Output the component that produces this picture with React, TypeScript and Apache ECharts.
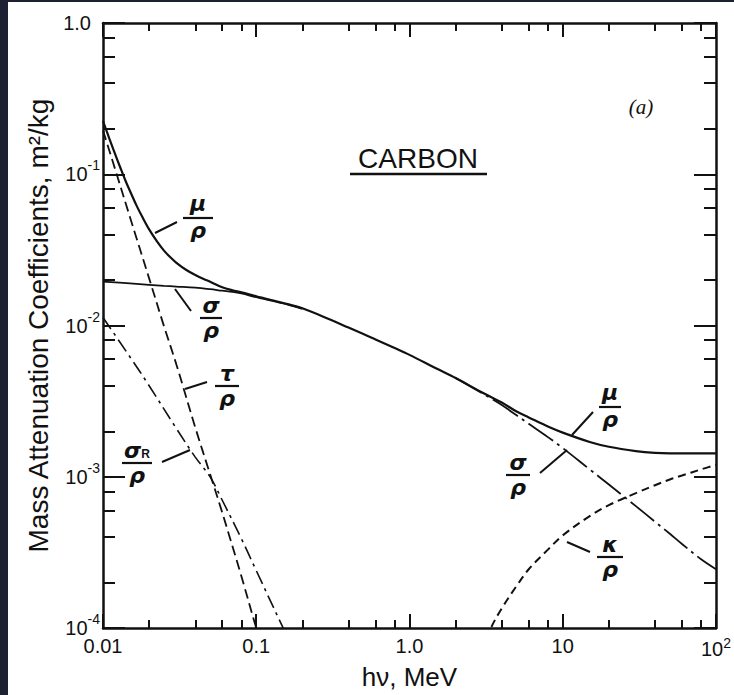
import React, { useEffect, useRef } from "react";
import * as echarts from "echarts";

// ---- data (m^2/kg vs photon energy in MeV) ----
const muEnergy = [0.01, 0.011, 0.012, 0.013, 0.014, 0.015, 0.0165, 0.018, 0.02, 0.0225, 0.025, 0.0275, 0.03, 0.035, 0.04, 0.045, 0.05, 0.06, 0.07, 0.08, 0.1, 0.15, 0.2, 0.3, 0.4, 0.5, 0.6, 0.8, 1, 1.5, 2, 3, 4, 5, 6, 8, 10, 15, 20, 30, 40, 50, 60, 80, 100];
const muValues = [0.225, 0.172, 0.136, 0.11, 0.091, 0.0775, 0.0625, 0.0525, 0.0432, 0.036, 0.0313, 0.0283, 0.0261, 0.0233, 0.0216, 0.0204, 0.0195, 0.0179, 0.0171, 0.0166, 0.0156, 0.0141, 0.013, 0.011, 0.0097, 0.0088, 0.0081, 0.0071, 0.0064, 0.0052, 0.0045, 0.0036, 0.0031, 0.0027, 0.00247, 0.00215, 0.00196, 0.0017, 0.00158, 0.00148, 0.00144, 0.00143, 0.00143, 0.00143, 0.00143];

const sigmaEnergy = [0.01, 0.015, 0.02, 0.025, 0.03, 0.04, 0.05, 0.06, 0.07, 0.08, 0.1, 0.15, 0.2, 2, 3, 4, 5, 6, 8, 10, 15, 20, 30, 40, 50, 60, 80, 100];
const sigmaValues = [0.0195, 0.019, 0.0186, 0.0183, 0.0181, 0.0178, 0.0174, 0.017, 0.0167, 0.0163, 0.0154, 0.014, 0.0129, 0.0045, 0.00355, 0.00298, 0.00255, 0.00224, 0.00183, 0.00155, 0.00112, 0.00089, 0.00064, 0.000505, 0.00042, 0.00036, 0.000285, 0.000245];

const tauEnergy = [0.01, 0.012, 0.015, 0.02, 0.025, 0.03, 0.04, 0.05, 0.06, 0.08, 0.1, 0.12];
const tauValues = [0.195, 0.108, 0.052, 0.0205, 0.0099, 0.0056, 0.00212, 0.00104, 0.00058, 0.00022, 0.0001, 0.000055];

const rayEnergy = [0.01, 0.015, 0.02, 0.03, 0.04, 0.05, 0.06, 0.08, 0.1, 0.15, 0.2];
const rayValues = [0.0113, 0.0062, 0.004, 0.0021, 0.00135, 0.001, 0.0007, 0.00039, 0.00024, 0.0001, 0.000055];

const pairEnergy = [3, 3.4, 4, 5, 6, 8, 10, 15, 20, 30, 40, 50, 60, 80, 100];
const pairValues = [0.00007, 0.0001, 0.000135, 0.00019, 0.000245, 0.00033, 0.00041, 0.00055, 0.00065, 0.00078, 0.00088, 0.00096, 0.00102, 0.00112, 0.0012];

// ---- ticks and tick labels ----
const xMajorTicks = [0.01, 0.1, 1, 10, 100];
const xLabelBase = ["0.01", "0.1", "1.0", "10", "10"];
const xLabelSup = ["", "", "", "", "2"];
const xMinorTicks = [0.02, 0.04, 0.06, 0.08, 0.2, 0.4, 0.6, 0.8, 2, 4, 6, 8, 20, 40, 60, 80];

const yMajorTicks = [0.0001, 0.001, 0.01, 0.1, 1];
const yLabelBase = ["10", "10", "10", "10", "1.0"];
const yLabelSup = ["-4", "-3", "-2", "-1", ""];
const yMinorTicks = [0.0002, 0.0004, 0.0006, 0.0008, 0.002, 0.004, 0.006, 0.008, 0.02, 0.04, 0.06, 0.08, 0.2, 0.4, 0.6, 0.8];

const INK = "#111111";
const SANS = '"Liberation Sans", Arial, sans-serif';
const GREEK = '"DejaVu Sans", sans-serif';

const zip = (xs: number[], ys: number[]) => xs.map((x, i) => [x, ys[i]]);

const findIdx = (ticks: number[], v: number) =>
  ticks.findIndex((t) => Math.abs(Math.log10(t) - Math.log10(v)) < 1e-6);

function glyph(text: string, x: number, y: number, va: string, rich?: any) {
  return {
    type: "text",
    x,
    y,
    z: 10,
    style: {
      text,
      fill: INK,
      fontFamily: GREEK,
      fontStyle: "italic",
      fontWeight: 600,
      fontSize: 22,
      lineHeight: 20,
      align: "center",
      verticalAlign: va,
      rich,
    },
  };
}

function fraction(cx: number, barY: number, halfW: number, num: string, numDy = -2, rich?: any) {
  return [
    glyph(num, cx, barY - 1 + numDy, "bottom", rich),
    {
      type: "line",
      z: 10,
      shape: { x1: cx - halfW, y1: barY, x2: cx + halfW, y2: barY },
      style: { stroke: INK, lineWidth: 2.2 },
    },
    glyph("ρ", cx, barY + 2, "top"),
  ];
}

function leader(x1: number, y1: number, x2: number, y2: number) {
  return { type: "line", z: 10, shape: { x1, y1, x2, y2 }, style: { stroke: INK, lineWidth: 2 } };
}

export default function App() {
  const ref = useRef<HTMLDivElement>(null);

  useEffect(() => {
    document.body.style.margin = "0";
    const chart = echarts.init(ref.current!, null, { renderer: "svg" });

    const tickStyle = { color: INK, width: 2 };
    const majorX = (position: string, showLabel: boolean) => ({
      type: "log",
      logBase: 10,
      min: 0.01,
      max: 100,
      interval: 1,
      position,
      gridIndex: 0,
      axisLine: { show: true, onZero: false, lineStyle: { color: INK, width: 2.5 } },
      axisTick: { show: true, inside: true, length: 14, lineStyle: tickStyle },
      minorTick: { show: false },
      splitLine: { show: false },
      axisLabel: showLabel
        ? {
            show: true,
            margin: 8,
            color: INK,
            fontFamily: SANS,
            fontSize: 20,
            formatter: (v: number) => {
              const i = findIdx(xMajorTicks, v);
              if (i < 0) return "";
              return xLabelSup[i] ? `{n|${xLabelBase[i]}}{s|${xLabelSup[i]}}` : `{n|${xLabelBase[i]}}`;
            },
            rich: {
              n: { fontSize: 20, fontFamily: SANS, color: INK },
              s: { fontSize: 14, fontFamily: SANS, color: INK, padding: [0, 0, 12, 0], verticalAlign: "top" },
            },
          }
        : { show: false },
    });
    const minorX = (position: string) => ({
      type: "log",
      logBase: 10,
      min: 0.01,
      max: 100,
      position,
      gridIndex: 0,
      axisLine: { show: false, onZero: false },
      axisTick: { show: true, inside: true, length: 8, customValues: xMinorTicks, lineStyle: tickStyle },
      splitLine: { show: false },
      axisLabel: { show: false },
    });
    const majorY = (position: string, showLabel: boolean) => ({
      type: "log",
      logBase: 10,
      min: 0.0001,
      max: 1,
      interval: 1,
      position,
      gridIndex: 0,
      axisLine: { show: true, onZero: false, lineStyle: { color: INK, width: 2.5 } },
      axisTick: { show: true, inside: true, length: 22, lineStyle: tickStyle },
      minorTick: { show: false },
      splitLine: { show: false },
      axisLabel: showLabel
        ? {
            show: true,
            margin: 3,
            color: INK,
            fontFamily: SANS,
            fontSize: 20,
            formatter: (v: number) => {
              const i = findIdx(yMajorTicks, v);
              if (i < 0) return "";
              return yLabelSup[i] ? `{n|${yLabelBase[i]}}{s|${yLabelSup[i]}}` : `{p|${yLabelBase[i]}}`;
            },
            rich: {
              n: { fontSize: 20, fontFamily: SANS, color: INK },
              p: { fontSize: 20, fontFamily: SANS, color: INK, padding: [0, 9, 0, 0] },
              s: { fontSize: 14, fontFamily: SANS, color: INK, padding: [0, 0, 18, 0], verticalAlign: "top" },
            },
          }
        : { show: false },
    });
    const minorY = (position: string) => ({
      type: "log",
      logBase: 10,
      min: 0.0001,
      max: 1,
      position,
      gridIndex: 0,
      axisLine: { show: false, onZero: false },
      axisTick: { show: true, inside: true, length: 12, customValues: yMinorTicks, lineStyle: tickStyle },
      splitLine: { show: false },
      axisLabel: { show: false },
    });

    const xMain: any = majorX("bottom", true);
    xMain.name = "hν, MeV";
    xMain.nameLocation = "middle";
    xMain.nameGap = 35;
    xMain.nameTextStyle = { fontFamily: SANS, fontSize: 26, color: INK };

    const yMain: any = majorY("left", true);
    yMain.name = "Mass Attenuation Coefficients, m²/kg";
    yMain.nameLocation = "middle";
    yMain.nameGap = 50;
    yMain.nameTextStyle = { fontFamily: SANS, fontSize: 28, color: INK };

    const lineSeries = (name: string, data: number[][], type: any, width: number) => ({
      name,
      type: "line",
      xAxisIndex: 0,
      yAxisIndex: 0,
      data,
      symbol: "none",
      smooth: 0.35,
      clip: true,
      silent: true,
      lineStyle: { color: INK, width, type, cap: "butt" },
      z: 3,
    });

    const sigmaAll = zip(sigmaEnergy, sigmaValues);
    const sigmaLow = sigmaAll.filter((p) => p[0] <= 0.2);
    const sigmaHigh = sigmaAll.filter((p) => p[0] >= 2);

    const graphics: any[] = [
      { type: "rect", z: 0, shape: { x: 0, y: 0, width: 8, height: 695 }, style: { fill: "#1c2231" } },
      { type: "rect", z: 0, shape: { x: 0, y: 0, width: 734, height: 2 }, style: { fill: "#1c2231" } },
      {
        type: "text",
        x: 418,
        y: 158,
        z: 10,
        style: { text: "CARBON", fill: INK, fontFamily: SANS, fontSize: 28, align: "center", verticalAlign: "middle" },
      },
      { type: "line", z: 10, shape: { x1: 350, y1: 174, x2: 487, y2: 174 }, style: { stroke: INK, lineWidth: 2.5 } },
      {
        type: "text",
        x: 641,
        y: 107,
        z: 10,
        style: {
          text: "(a)",
          fill: INK,
          fontFamily: '"Liberation Serif", serif',
          fontStyle: "italic",
          fontSize: 21,
          align: "center",
          verticalAlign: "middle",
        },
      },
      // mu/rho (upper)
      ...fraction(198, 218, 15, "μ", -4),
      leader(155, 233, 177, 222),
      // sigma/rho (upper)
      ...fraction(211, 318, 11, "σ"),
      leader(175, 289, 191, 311),
      // tau/rho
      ...fraction(227, 386, 12, "τ"),
      leader(185, 389, 207, 382),
      // sigma_R/rho
      ...fraction(137, 463, 15, "{g|σ}{r|R}", -2, {
        g: { fontFamily: GREEK, fontStyle: "italic", fontWeight: 600, fontSize: 22, lineHeight: 20, color: INK },
        r: { fontFamily: SANS, fontWeight: "bold", fontSize: 12, color: INK, padding: [8, 0, 0, 0] },
      }),
      leader(162, 462, 190, 450),
      // mu/rho (lower right)
      ...fraction(610, 407, 11, "μ", -4),
      leader(572, 435, 593, 412),
      // sigma/rho (lower right)
      ...fraction(518, 475, 12, "σ"),
      leader(540, 473, 567, 450),
      // kappa/rho
      ...fraction(610, 557, 13, "κ"),
      leader(567, 542, 590, 552),
    ];

    chart.setOption({
      animation: false,
      backgroundColor: "#ffffff",
      textStyle: { fontFamily: SANS },
      grid: { left: 103, top: 23, right: 16, bottom: 65, containLabel: false },
      xAxis: [xMain, minorX("bottom"), majorX("top", false), minorX("top")],
      yAxis: [yMain, minorY("left"), majorY("right", false), minorY("right")],
      series: [
        lineSeries("μ/ρ", zip(muEnergy, muValues), "solid", 2.2),
        lineSeries("σ/ρ (low)", sigmaLow, "solid", 1.8),
        lineSeries("σ/ρ (high)", sigmaHigh, [30, 5, 3, 5], 1.8),
        lineSeries("τ/ρ", zip(tauEnergy, tauValues), [10, 5], 1.8),
        lineSeries("σR/ρ", zip(rayEnergy, rayValues), [14, 5, 3, 5], 1.6),
        lineSeries("κ/ρ", zip(pairEnergy, pairValues), [8, 5], 2),
      ],
      graphic: graphics,
    });

    return () => chart.dispose();
  }, []);

  return <div ref={ref} style={{ width: 734, height: 695, background: "#fff" }} />;
}
